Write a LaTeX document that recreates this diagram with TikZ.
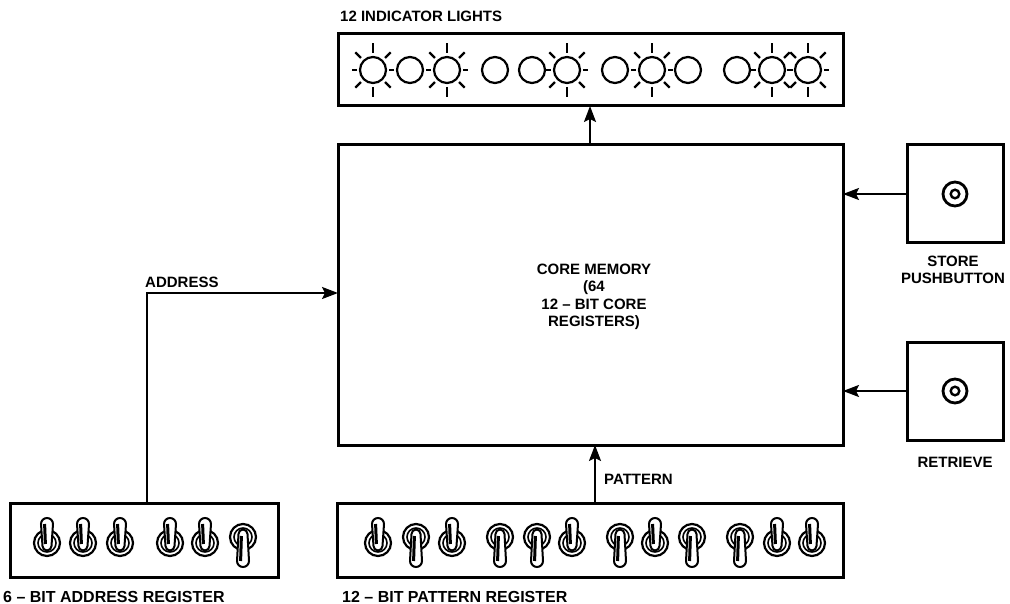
\documentclass[tikz,border=0pt]{standalone}
\usepackage{fontspec}
\setmainfont{Liberation Sans}
\usetikzlibrary{arrows.meta}
\begin{document}
\begin{tikzpicture}[x=1pt,y=-1pt,
  box/.style={draw, line width=3pt, inner sep=0pt, outer sep=0pt, anchor=north west},
  conn/.style={line width=2.1pt, -{Stealth[length=16pt,width=12pt,inset=3pt]}},
  lbl/.style={font=\bfseries\fontsize{15}{17.5}\selectfont, inner sep=0pt, align=center},
  blbl/.style={font=\bfseries\fontsize{16}{18}\selectfont, inner sep=0pt},
  lamp/.style={line width=2.2pt},
  ray/.style={line width=2.2pt},
  swup/.pic={
    \draw[line width=2.2pt, fill=white] (0,0) circle (13);
    \draw[line width=1.6pt] (0,0) circle (9);
    \draw[line width=2pt, fill=white] (-4.5,3) -- (-6,-19) arc[start angle=180,end angle=360,radius=6] -- (4.5,3) arc[start angle=0,end angle=180,radius=4.5] -- cycle;
    \draw[line width=3pt] (-2.4,-19) -- (-1.6,1);
  },
  swdn/.pic={
    \draw[line width=2.2pt, fill=white] (0,0) circle (13);
    \draw[line width=1.6pt] (0,0) circle (9);
    \draw[line width=2pt, fill=white] (-4.5,-3) -- (-6,24) arc[start angle=180,end angle=0,radius=6] -- (4.5,-3) arc[start angle=0,end angle=-180,radius=4.5] -- cycle;
    \draw[line width=3pt] (-2.4,24) -- (-1.6,-1);
  }]
\useasboundingbox (0,0) rectangle (1010,604);

% boxes
\node (panel) [box, minimum width=505pt, minimum height=72pt] at (338,34) {};
\node (core)  [box, minimum width=505pt, minimum height=300pt] at (338,145) {};
\node (corelbl) [lbl] at (594,297) {CORE MEMORY\\(64\\12 – BIT CORE\\REGISTERS)};
\node (store) [box, minimum width=96pt, minimum height=98pt] at (907,145) {};
\node (retr)  [box, minimum width=96pt, minimum height=98pt] at (907,342) {};
\node (addr)  [box, minimum width=268pt, minimum height=74pt] at (10,503) {};
\node (patt)  [box, minimum width=506pt, minimum height=74pt] at (337,503) {};

% labels
\node (tlights) [lbl, anchor=west] at (340,16) {12 INDICATOR LIGHTS};
\node (tstore) [lbl] at (953,270) {STORE\\PUSHBUTTON};
\node (tretr) [lbl] at (955,462) {RETRIEVE};
\node (taddrline) [lbl, anchor=west] at (145,282) {ADDRESS};
\node (tpattline) [lbl, anchor=west] at (604,479) {PATTERN};
\node (taddr) [blbl, anchor=west] at (3,597) {6 – BIT ADDRESS REGISTER};
\node (tpatt) [blbl, anchor=west] at (342,597) {12 – BIT PATTERN REGISTER};

% connectors
\coordinate (lk) at (590,0);
\coordinate (pk) at (595,0);
\coordinate (ak) at (147,293);
\draw[conn] (lk |- core.north) -- (lk |- panel.south);
\draw[conn] (store.west) -- (store.west -| core.east);
\draw[conn] (retr.west) -- (retr.west -| core.east);
\draw[conn] (ak |- addr.north) -- (ak) -- (ak -| core.west);
\draw[conn] (pk |- patt.north) -- (pk |- core.south);

% pushbuttons
\draw[line width=2.8pt] (store.center) circle (12);
\draw[line width=2.4pt] (store.center) circle (4.3);
\draw[line width=2.8pt] (retr.center) circle (12);
\draw[line width=2.4pt] (retr.center) circle (4.3);

% indicator lights
\foreach \x/\lit in {373/1,410/0,447/1,495/0,532/0,567/1,615/0,652/1,688/0,737/0,772/1,808/1}{
  \draw[lamp] (\x,70) circle (13);
  \ifnum\lit=1
    \foreach \a/\r/\R in {0/16/21,180/16/21,90/17/27,270/17/27,45/17/25,135/17/25,225/17/25,315/17/25}
      \draw[ray, shift={(\x,70)}] (\a:\r) -- (\a:\R);
  \fi
}

% address switches
\foreach \x in {47,83,120,170,205}
  \pic at (\x,543) {swup};
\pic at (243,537) {swdn};

% pattern switches
\foreach \x/\u in {378/1,416/0,452/1,500/0,537/0,572/1,620/0,655/1,692/0,740/0,777/1,812/1}{
  \ifnum\u=1
    \pic at (\x,543) {swup};
  \else
    \pic at (\x,537) {swdn};
  \fi
}
\end{tikzpicture}
\end{document}
